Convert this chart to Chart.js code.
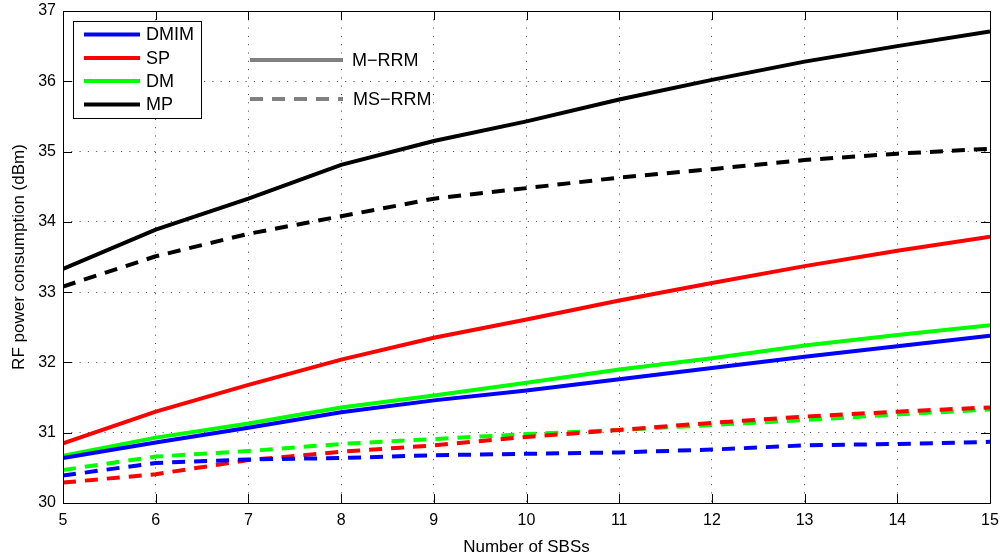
<!DOCTYPE html>
<html>
<head>
<meta charset="utf-8">
<script src="https://cdn.jsdelivr.net/npm/chart.js@4/dist/chart.umd.min.js"></script>
<style>
html,body{margin:0;padding:0;background:#fff;}
canvas{display:block;}
</style>
</head>
<body>
<canvas id="c" width="1006" height="559"></canvas>
<script>
// ---- data ----
const xValues = [5, 6, 7, 8, 9, 10, 11, 12, 13, 14, 15];
const yTicks = [30, 31, 32, 33, 34, 35, 36, 37];
const seriesNames = ['DMIM', 'SP', 'DM', 'MP'];
const schemeNames = ['M\u2212RRM', 'MS\u2212RRM'];

// M-RRM (solid)
const dmimM = [30.64, 30.86, 31.07, 31.29, 31.46, 31.60, 31.76, 31.92, 32.08, 32.23, 32.38];
const spM   = [30.85, 31.30, 31.68, 32.04, 32.35, 32.61, 32.88, 33.13, 33.37, 33.59, 33.79];
const dmM   = [30.67, 30.93, 31.13, 31.36, 31.53, 31.71, 31.90, 32.06, 32.24, 32.39, 32.53];
const mpM   = [33.33, 33.89, 34.33, 34.81, 35.15, 35.43, 35.74, 36.02, 36.28, 36.50, 36.71];

// MS-RRM (dashed)
const dmimMS = [30.39, 30.57, 30.62, 30.64, 30.68, 30.70, 30.72, 30.76, 30.82, 30.84, 30.87];
const spMS   = [30.29, 30.41, 30.61, 30.73, 30.82, 30.94, 31.04, 31.14, 31.23, 31.30, 31.36];
const dmMS   = [30.47, 30.66, 30.74, 30.84, 30.91, 30.98, 31.04, 31.11, 31.18, 31.26, 31.33];
const mpMS   = [33.08, 33.51, 33.83, 34.08, 34.33, 34.48, 34.63, 34.75, 34.88, 34.97, 35.04];

const colors = ['#0000ff', '#ff0000', '#00ff00', '#000000'];
const solidSeries = [dmimM, spM, dmM, mpM];
const dashedSeries = [dmimMS, spMS, dmMS, mpMS];
const DASH = [13, 9];

function pts(arr) { return xValues.map((x, i) => ({x: x, y: arr[i]})); }

const datasets = [];
dashedSeries.forEach((arr, i) => datasets.push({
  label: seriesNames[i] + ' ' + schemeNames[1], data: pts(arr),
  borderColor: colors[i], borderWidth: 4, borderDash: DASH,
  pointRadius: 0, tension: 0, fill: false, borderCapStyle: 'butt'
}));
solidSeries.forEach((arr, i) => datasets.push({
  label: seriesNames[i] + ' ' + schemeNames[0], data: pts(arr),
  borderColor: colors[i], borderWidth: 4,
  pointRadius: 0, tension: 0, fill: false
}));

const FONT = '"Liberation Sans", Arial, Helvetica, sans-serif';

const framePlugin = {
  id: 'frame',
  afterDraw(chart) {
    const ctx = chart.ctx;
    const a = chart.chartArea;
    const xs = chart.scales.x, ys = chart.scales.y;
    ctx.save();
    // inner ticks
    ctx.strokeStyle = '#000';
    ctx.lineWidth = 1;
    ctx.setLineDash([]);
    const TL = 9;
    ctx.beginPath();
    xValues.forEach(v => {
      const px = Math.round(xs.getPixelForValue(v)) + 0.5;
      ctx.moveTo(px, a.bottom); ctx.lineTo(px, a.bottom - TL);
      ctx.moveTo(px, a.top); ctx.lineTo(px, a.top + TL);
    });
    yTicks.forEach(v => {
      const py = Math.round(ys.getPixelForValue(v)) + 0.5;
      ctx.moveTo(a.left, py); ctx.lineTo(a.left + TL, py);
      ctx.moveTo(a.right, py); ctx.lineTo(a.right - TL, py);
    });
    ctx.stroke();
    // box
    ctx.strokeRect(Math.round(a.left) + 0.5, Math.round(a.top) + 0.5,
                   Math.round(a.right - a.left), Math.round(a.bottom - a.top));

    // series legend box
    const bx = a.left + 10, by = a.top + 10, bw = 128, bh = 97;
    ctx.fillStyle = '#fff';
    ctx.fillRect(bx, by, bw, bh);
    ctx.strokeRect(Math.round(bx) + 0.5, Math.round(by) + 0.5, bw, bh);
    ctx.font = '18px ' + FONT;
    ctx.textBaseline = 'middle';
    ctx.textAlign = 'left';
    const rowY = [23.5, 47, 70, 93.5];
    seriesNames.forEach((n, i) => {
      const y = a.top + rowY[i];
      ctx.strokeStyle = colors[i];
      ctx.lineWidth = 4;
      ctx.beginPath(); ctx.moveTo(bx + 11, y); ctx.lineTo(bx + 67, y); ctx.stroke();
      ctx.fillStyle = '#000';
      ctx.fillText(n, bx + 73, y + 1);
    });

    // scheme legend (no box)
    const lx0 = a.left + 187, lx1 = a.left + 280;
    const sy = [a.top + 49, a.top + 88];
    ctx.strokeStyle = '#808080';
    ctx.lineWidth = 4;
    ctx.beginPath(); ctx.moveTo(lx0, sy[0]); ctx.lineTo(lx1, sy[0]); ctx.stroke();
    ctx.setLineDash(DASH);
    ctx.beginPath(); ctx.moveTo(lx0, sy[1]); ctx.lineTo(lx1, sy[1]); ctx.stroke();
    ctx.setLineDash([]);
    ctx.fillStyle = '#000';
    ctx.fillText(schemeNames[0], lx1 + 9, sy[0] + 1);
    ctx.fillText(schemeNames[1], lx1 + 10, sy[1] + 1);
    ctx.restore();
  }
};

new Chart(document.getElementById('c'), {
  type: 'line',
  data: { datasets: datasets },
  options: {
    responsive: false,
    animation: false,
    events: [],
    layout: { padding: { left: 0, right: 16, top: 11, bottom: 0 } },
    plugins: { legend: { display: false }, tooltip: { enabled: false } },
    scales: {
      x: {
        type: 'linear', min: 5, max: 15,
        afterFit(s) { s.height = 56; s.paddingLeft = 0; s.paddingRight = 0; },
        afterBuildTicks(s) { s.ticks = xValues.map(v => ({value: v})); },
        ticks: { color: '#000', font: { family: FONT, size: 16 }, padding: 8, maxRotation: 0 },
        grid: { color: '#444', lineWidth: 1, drawTicks: false },
        border: { display: false, dash: [1, 7.3] },
        title: { display: true, text: 'Number of SBSs', color: '#000',
                 font: { family: FONT, size: 17 }, padding: { top: 0, bottom: 1 } }
      },
      y: {
        type: 'linear', min: 30, max: 37,
        afterFit(s) { s.width = 63; s.paddingTop = 0; s.paddingBottom = 0; },
        afterBuildTicks(s) { s.ticks = yTicks.map(v => ({value: v})); },
        ticks: { color: '#000', font: { family: FONT, size: 16 }, padding: 7 },
        grid: { color: '#444', lineWidth: 1, drawTicks: false },
        border: { display: false, dash: [1, 7.3] },
        title: { display: true, text: 'RF power consumption (dBm)', color: '#000',
                 font: { family: FONT, size: 17 }, padding: { top: 9, bottom: 0 } }
      }
    }
  },
  plugins: [framePlugin]
});
</script>
</body>
</html>
